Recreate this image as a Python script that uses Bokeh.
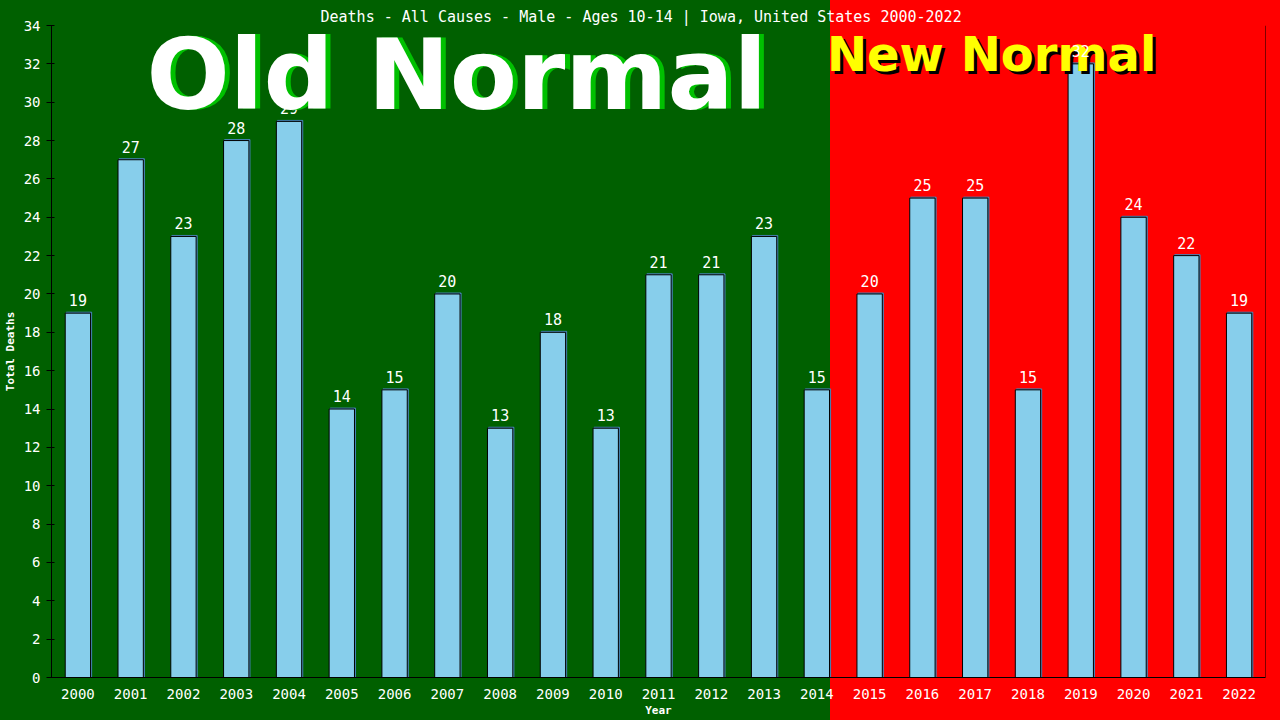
from bokeh.plotting import figure
from bokeh.models import ColumnDataSource, Label, Span, FixedTicker, Range1d
from bokeh.core.properties import value
from bokeh.embed import file_html
from bokeh.resources import INLINE

years = list(range(2000, 2023))
deaths = [19, 27, 23, 28, 29, 14, 15, 20, 13, 18, 13, 21, 21, 23, 15,
          20, 25, 25, 15, 32, 24, 22, 19]
y_ticks = list(range(0, 35, 2))
title_text = "Deaths - All Causes - Male - Ages 10-14 | Iowa, United States 2000-2022"
old_label = "Old Normal"
new_label = "New Normal"

GREEN = "#006000"
RED = "#ff0000"
MONO = "DejaVu Sans Mono"

W, H = 1280, 720
p = figure(width=W, height=H, output_backend="svg", toolbar_location=None,
           x_range=Range1d(1999.5, 2022.5), y_range=Range1d(0, 34),
           min_border_left=51, min_border_right=15, min_border_top=25, min_border_bottom=43,
           background_fill_alpha=0, border_fill_alpha=0, outline_line_color=None,
           styles={"position": "fixed", "left": "0px", "top": "0px",
                   "background": f"linear-gradient(to right, {GREEN} 0px, {GREEN} 830px, {RED} 830px, {RED} 100%)"})
p.grid.visible = False

# title
p.title.text = title_text
p.title.align = "left"
p.title.offset = 269
p.title.text_color = "white"
p.title.text_font = MONO
p.title.text_font_style = "normal"
p.title.text_font_size = "15px"
p.title.standoff = 0

src = ColumnDataSource(dict(x=years, y=deaths, lab=[str(d) for d in deaths],
                            xs=[y + 0.02 for y in years], ys=[d + 0.05 for d in deaths]))

# bar shadow + bars
p.vbar(x="xs", top="ys", bottom=0, width=0.48, source=src,
       fill_color="steelblue", line_color="steelblue", line_width=1)
p.vbar(x="x", top="y", bottom=0, width=0.48, source=src,
       fill_color="#87ceeb", line_color="black", line_width=1)

# value labels (drawn above "New Normal", below "Old Normal")
p.text(x="x", y="y", text="lab", source=src, text_align="center",
       text_baseline="alphabetic", y_offset=-13, text_color="white",
       text_font=value(MONO), text_font_size="15px", level="overlay")

# big labels
for dx, dy, col in [(5, 35, "#00c000"), (0, 35, "white")]:
    p.add_layout(Label(x=2001.3, y=29.57, text=old_label, text_font="DejaVu Sans",
                       text_font_style="bold", text_font_size="98px", text_color=col,
                       text_align="left", text_baseline="alphabetic",
                       x_offset=dx, y_offset=dy, level="overlay"))
for dx, dy, col in [(3, 12, "black"), (0, 15, "#ffff00")]:
    p.add_layout(Label(x=2014.19, y=31.71, text=new_label, text_font="DejaVu Sans",
                       text_font_style="bold", text_font_size="48px", text_color=col,
                       text_align="left", text_baseline="alphabetic",
                       x_offset=dx, y_offset=dy))

p.add_layout(Span(location=2022.5, dimension="height", line_color="black", line_width=1))

# axes
xa = p.xaxis[0]
xa.ticker = FixedTicker(ticks=years)
xa.axis_label = "Year"
xa.major_tick_line_color = None
xa.minor_tick_line_color = None
xa.axis_line_color = "black"
xa.major_label_standoff = 5
xa.axis_label_standoff = 2

ya = p.yaxis[0]
ya.ticker = FixedTicker(ticks=y_ticks)
ya.axis_label = "Total Deaths"
ya.major_tick_line_color = "black"
ya.major_tick_out = 5
ya.major_tick_in = 3
ya.minor_tick_line_color = None
ya.axis_line_color = "black"
ya.major_label_standoff = 6
ya.axis_label_standoff = 4

for ax in (xa, ya):
    ax.major_label_text_color = "white"
    ax.major_label_text_font = MONO
    ax.major_label_text_font_size = "14px"
    ax.axis_label_text_color = "white"
    ax.axis_label_text_font = MONO
    ax.axis_label_text_font_style = "bold"
    ax.axis_label_text_font_size = "11px"

open("out.html", "w").write(file_html(p, INLINE))
